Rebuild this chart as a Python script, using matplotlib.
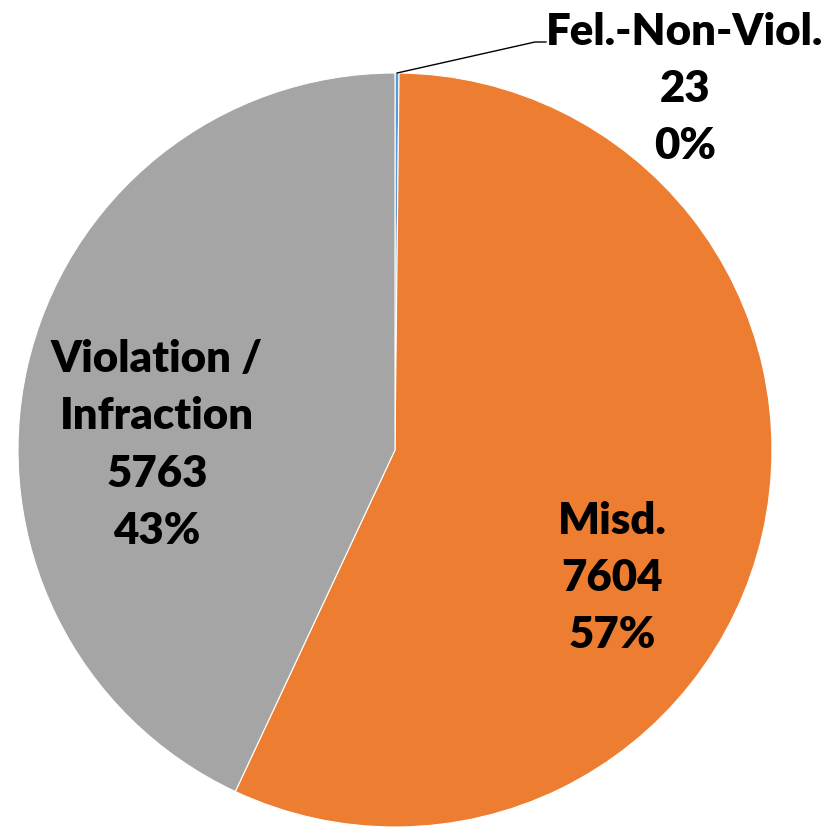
import numpy as np
import matplotlib.pyplot as plt

# data
categories = ["Fel.-Non-Viol.", "Misd.", "Violation /\nInfraction"]
counts = [23, 7604, 5763]
colors = ["#5B9BD5", "#ED7D31", "#A5A5A5"]

W, H = 825, 827
fig = plt.figure(figsize=(W / 100, H / 100), dpi=100)
ax = fig.add_axes([0, 0, 1, 1])

cx, cy, r = 395, H - 450, 377
wedges, _ = ax.pie(
    counts,
    colors=colors,
    startangle=90,
    counterclock=False,
    center=(cx, cy),
    radius=r,
    wedgeprops=dict(edgecolor="white", linewidth=0.8),
    frame=True,
)
ax.set_xlim(0, W)
ax.set_ylim(0, H)
ax.set_aspect("equal")
ax.axis("off")

total = sum(counts)
labels = [f"{c}\n{n}\n{round(100 * n / total):.0f}%" for c, n in zip(categories, counts)]

font = dict(family="Lato", fontweight="heavy", fontsize=31.5, ha="center", va="center",
            linespacing=1.52, color="black")

# label positions (pixels)
ax.text(685, H - 89, labels[0], **font)
ax.text(612, H - 578, labels[1], **font)
ax.text(157, H - 445, labels[2], **font)

# leader line for the tiny slice
w0 = wedges[0]
ang = np.deg2rad((w0.theta1 + w0.theta2) / 2)
px, py = cx + r * np.cos(ang), cy + r * np.sin(ang)
ax.plot([px, 535, 546], [py, H - 42, H - 42], color="black", lw=1)

fig.savefig("out.png", dpi=100)
